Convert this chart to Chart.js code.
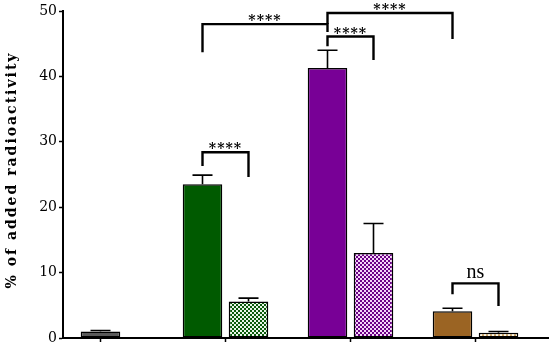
<!DOCTYPE html>
<html>
<head>
<meta charset="utf-8">
<script src="https://cdn.jsdelivr.net/npm/chart.js@4.4.0/dist/chart.umd.min.js"></script>
<style>
  html, body { margin: 0; padding: 0; background: #fff; }
  #wrap { width: 550px; height: 350px; }
</style>
</head>
<body>
<div id="wrap"><canvas id="c"></canvas></div>
<script>
// groups along the x axis (no labels shown in the figure)
const groups = ["control", "group 2", "group 3", "group 4"];

// grey control bar (only in the first group)
const control = [1.0, null, null, null];
const controlErr = [0.15, null, null, null];

// solid bars and patterned bars of each pair
const solid = [null, 23.5, 41.3, 4.1];
const solidErr = [null, 1.4, 2.7, 0.45];
const dotted = [null, 5.6, 13.0, 0.8];
const dottedErr = [null, 0.5, 4.5, 0.2];

const yTicks = [0, 10, 20, 30, 40, 50];

// significance brackets: [group, series] at each end, bracket level, leg ends, label
const comparisons = [
  { a: [1, "solid"], b: [1, "dotted"], level: 28.4, endA: 26.3, endB: 24.6, label: "****" },
  { a: [1, "solid"], b: [2, "solid"], level: 48.0, endA: 43.7, endB: 46.8, label: "****" },
  { a: [2, "solid"], b: [2, "dotted"], level: 46.1, endA: 44.6, endB: 42.5, label: "****" },
  { a: [2, "solid"], b: [3, "solid"], level: 49.7, endA: 48.0, endB: 45.7, label: "****" },
  { a: [3, "solid"], b: [3, "dotted"], level: 8.35, endA: 6.7, endB: 4.9, label: "ns" },
];

function checker(fg, bg) {
  const c = document.createElement("canvas");
  c.width = 4; c.height = 4;
  const x = c.getContext("2d");
  x.fillStyle = bg; x.fillRect(0, 0, 4, 4);
  x.fillStyle = fg; x.fillRect(0, 0, 2, 2); x.fillRect(2, 2, 2, 2);
  return x.createPattern(c, "repeat");
}

const solidColors = ["#000", "#005a00", "#780096", "#9b6423"];
const dottedColors = [
  "#fff",
  checker("#0b5a0b", "#e8f5e8"),
  checker("#6c0086", "#f4d4f8"),
  checker("#c9a062", "#fff6e0"),
];

const toPoints = (arr) => arr.map((v, i) => ({ x: i, y: v }));

const errorBars = {
  id: "errorBars",
  afterDatasetsDraw(chart) {
    const { ctx } = chart;
    const y = chart.scales.y;
    ctx.save();
    ctx.strokeStyle = "#000";
    ctx.lineWidth = 1.6;
    chart.data.datasets.forEach((ds, di) => {
      const meta = chart.getDatasetMeta(di);
      meta.data.forEach((bar, i) => {
        const v = ds.data[i].y, e = ds.err[i];
        if (v == null || e == null) return;
        const top = y.getPixelForValue(v + e);
        ctx.beginPath();
        ctx.moveTo(bar.x, bar.y);
        ctx.lineTo(bar.x, top);
        ctx.moveTo(bar.x - 10, top);
        ctx.lineTo(bar.x + 10, top);
        ctx.stroke();
      });
    });
    ctx.restore();
  },
};

const brackets = {
  id: "brackets",
  afterDraw(chart) {
    const { ctx } = chart;
    const y = chart.scales.y;
    const seriesIndex = { control: 0, solid: 1, dotted: 2 };
    const barX = ([g, s]) => chart.getDatasetMeta(seriesIndex[s]).data[g].x;
    ctx.save();
    ctx.strokeStyle = "#000";
    ctx.fillStyle = "#000";
    ctx.lineWidth = 2.4;
    comparisons.forEach((c) => {
      const xa = barX(c.a), xb = barX(c.b);
      const ly = y.getPixelForValue(c.level);
      ctx.beginPath();
      ctx.moveTo(xa, y.getPixelForValue(c.endA));
      ctx.lineTo(xa, ly);
      ctx.lineTo(xb, ly);
      ctx.lineTo(xb, y.getPixelForValue(c.endB));
      ctx.stroke();
      ctx.textAlign = "center";
      ctx.textBaseline = "alphabetic";
      if (c.label === "ns") {
        ctx.font = '20px "Liberation Serif"';
        ctx.letterSpacing = "0px";
        ctx.fillText(c.label, (xa + xb) / 2, ly - 5);
      } else {
        ctx.font = 'bold 14px "DejaVu Serif"';
        ctx.letterSpacing = "1px";
        ctx.fillText(c.label, (xa + xb) / 2, ly + 1);
      }
    });

    // y axis title, letter spaced
    ctx.translate(12, 170);
    ctx.rotate(-Math.PI / 2);
    ctx.font = 'bold 14px "DejaVu Serif"';
    ctx.letterSpacing = "2px";
    ctx.textAlign = "center";
    ctx.textBaseline = "middle";
    ctx.fillText("% of added radioactivity", 0, 0);
    ctx.restore();
  },
};

new Chart(document.getElementById("c"), {
  type: "bar",
  data: {
    datasets: [
      {
        label: "control",
        data: toPoints(control),
        err: controlErr,
        backgroundColor: "#5a5a5a",
        grouped: false,
        categoryPercentage: 0.736,
        barPercentage: 0.43,
      },
      {
        label: "solid",
        data: toPoints(solid),
        err: solidErr,
        backgroundColor: solidColors,
        categoryPercentage: 0.736,
        barPercentage: 0.86,
      },
      {
        label: "dotted",
        data: toPoints(dotted),
        err: dottedErr,
        backgroundColor: dottedColors,
        categoryPercentage: 0.736,
        barPercentage: 0.86,
      },
    ],
  },
  options: {
    responsive: true,
    maintainAspectRatio: false,
    animation: false,
    layout: { padding: { left: 0, top: 11, right: 2, bottom: 0 } },
    datasets: { bar: { borderColor: "#000", borderWidth: 1.5, borderSkipped: false } },
    plugins: { legend: { display: false }, tooltip: { enabled: false } },
    scales: {
      x: {
        type: "linear",
        offset: false,
        min: -0.3,
        max: 3.58,
        afterBuildTicks: (s) => { s.ticks = groups.map((_, i) => ({ value: i })); },
        afterFit: (s) => { s.height = 12; },
        ticks: { callback: () => "" },
        grid: { offset: false, drawOnChartArea: false, tickLength: 4, tickWidth: 1.5, tickColor: "#000" },
        border: { color: "#000", width: 2 },
      },
      y: {
        min: 0,
        max: 50,
        afterBuildTicks: (s) => { s.ticks = yTicks.map((v) => ({ value: v })); },
        afterFit: (s) => { s.width = 63; },
        ticks: { color: "#000", padding: 2, font: { family: "DejaVu Serif", size: 14 } },
        grid: { drawOnChartArea: false, tickLength: 4, tickWidth: 1.5, tickColor: "#000" },
        border: { color: "#000", width: 2 },
      },
    },
  },
  plugins: [errorBars, brackets],
});
</script>
</body>
</html>
